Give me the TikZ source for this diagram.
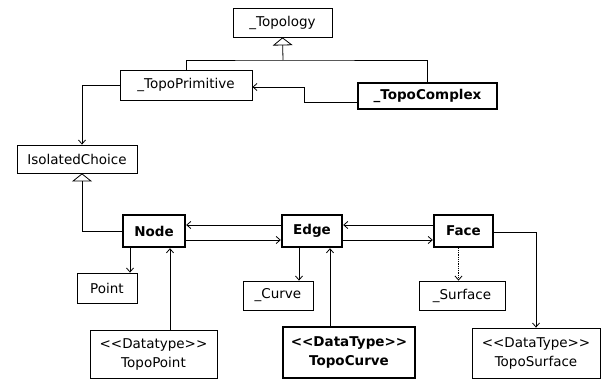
\documentclass[tikz,border=0pt]{standalone}
\usepackage{fontspec}
\setmainfont{DejaVu Sans}[Ligatures=TeXOff]
\usetikzlibrary{arrows.meta}
\begin{document}
\begin{tikzpicture}[x=1pt,y=-1pt,>={Straight Barb[length=4pt,width=7pt]},font=\fontsize{13.5}{19}\selectfont,
	cls/.style={draw,line width=0.8pt,inner sep=0pt,align=center},
	boldcls/.style={cls,line width=2.4pt,font=\fontsize{13.5}{19}\selectfont\bfseries},
	gen/.style={-{Triangle[open,length=8pt,width=20pt]}}]
	\useasboundingbox (0,0) rectangle (608,380);
	\node[cls,minimum width=99pt,minimum height=29pt] (topology) at (282.5,22.5) {\_Topology};
	\node[cls,minimum width=132pt,minimum height=30pt] (prim) at (186,85) {\_TopoPrimitive};
	\node[boldcls,minimum width=139pt,minimum height=26pt] (complex) at (427.5,96) {\_TopoComplex};
	\node[cls,minimum width=120pt,minimum height=28pt] (isolated) at (77,159) {IsolatedChoice};
	\node[boldcls,minimum width=62pt,minimum height=32pt] (node) at (154,231) {Node};
	\node[boldcls,minimum width=60pt,minimum height=32pt] (edge) at (312,231) {Edge};
	\node[boldcls,minimum width=59pt,minimum height=32pt] (face) at (463.5,231) {Face};
	\node[cls,minimum width=60pt,minimum height=30pt] (point) at (107,288) {Point};
	\node[cls,minimum width=70pt,minimum height=29pt] (curve) at (278,295.5) {\_Curve};
	\node[cls,minimum width=86pt,minimum height=29pt] (surface) at (462,295.5) {\_Surface};
	\node[cls,minimum width=127pt,minimum height=48pt] (tpoint) at (153.5,354) {<<Datatype>>\\TopoPoint};
	\node[boldcls,minimum width=132pt,minimum height=51pt] (tcurve) at (349,352.5) {<<DataType>>\\TopoCurve};
	\node[cls,minimum width=128pt,minimum height=50pt] (tsurface) at (536,353) {<<DataType>>\\TopoSurface};
	\coordinate (j1) at (283,60);
	\draw[line width=0.8pt,gen] (j1) -- (topology.south);
	\draw[line width=0.8pt] (prim.north) |- (j1) -| (complex.north);
	\draw[line width=0.8pt,->] ([yshift=-6pt]complex.west) -- ++(-52,0) |- ([yshift=-2pt]prim.east);
	\draw[line width=0.8pt,->] (prim.west) -| ([xshift=5pt]isolated.north);
	\draw[line width=0.8pt,gen] (node.west) -| ([xshift=5pt]isolated.south);
	\draw[line width=0.8pt,->] ([yshift=6pt]edge.west) -- ([yshift=6pt]node.east);
	\draw[line width=0.8pt,->] ([yshift=-9pt]node.east) -- ([yshift=-9pt]edge.west);
	\draw[line width=0.8pt,->] ([yshift=6pt]face.west) -- ([yshift=6pt]edge.east);
	\draw[line width=0.8pt,->] ([yshift=-9pt]edge.east) -- ([yshift=-9pt]face.west);
	\draw[line width=0.8pt,->] ([xshift=-24pt]node.south) -- ([xshift=-24pt]node.south |- point.north);
	\draw[line width=0.8pt,->] ([xshift=16pt]node.south |- tpoint.north) -- ([xshift=16pt]node.south);
	\draw[line width=0.8pt,->] ([xshift=-13pt]edge.south) -- ([xshift=-13pt]edge.south |- curve.north);
	\draw[line width=0.8pt,->] ([xshift=18pt]edge.south |- tcurve.north) -- ([xshift=18pt]edge.south);
	\draw[line width=0.8pt,densely dotted,->] ([xshift=-5pt]face.south) -- ([xshift=-5pt]face.south |- surface.north);
	\draw[line width=0.8pt,->] ([yshift=-1pt]face.east) -| (tsurface.north);
\end{tikzpicture}
\end{document}
